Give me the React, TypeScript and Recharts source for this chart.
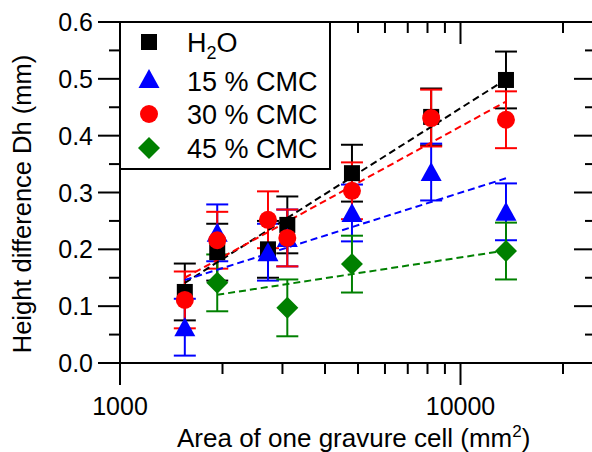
import { ScatterChart, Scatter, XAxis, YAxis, ErrorBar, ReferenceLine, Legend } from 'recharts';

// cell area (x) for each measured gravure cell
const AREA = [1550, 1930, 2720, 3100, 4800, 8200, 13600];
const AREA_45 = [1930, 3100, 4800, 13600];

// height difference (mm)
const H2O = [0.125, 0.195, 0.2, 0.243, 0.334, 0.433, 0.498];
const CMC15 = [0.063, 0.229, 0.195, 0.22, 0.264, 0.336, 0.266];
const CMC30 = [0.111, 0.216, 0.252, 0.22, 0.303, 0.431, 0.428];
const CMC45 = [0.141, 0.097, 0.174, 0.197];

const H2O_ERR = [0.05, 0.05, 0.05, 0.05, 0.05, 0.05, 0.05];
const CMC15_ERR = [0.05, 0.05, 0.05, 0.05, 0.05, 0.05, 0.05];
const CMC30_ERR = [0.05, 0.05, 0.05, 0.05, 0.05, 0.05, 0.05];
const CMC45_ERR = [0.05, 0.05, 0.05, 0.05];

// dashed fit lines, end points
const FIT_X = [1550, 13600];
const FIT_X_45 = [1930, 13600];
const FIT_H2O = [0.141, 0.499];
const FIT_15 = [0.146, 0.325];
const FIT_30 = [0.15, 0.46];
const FIT_45 = [0.12, 0.198];

const X_TICKS = [1000, 2000, 3000, 4000, 5000, 6000, 7000, 8000, 9000, 10000, 20000];
const X_MAJOR = [1000, 10000];
const Y_TICKS = [0, 0.05, 0.1, 0.15, 0.2, 0.25, 0.3, 0.35, 0.4, 0.45, 0.5, 0.55, 0.6];

const FONT = '"Liberation Sans", Arial, Helvetica, sans-serif';
const BLUE = '#0000ff';
const RED = '#ff0000';
const GREEN = '#008000';
const TOP = 22;
const RIGHT = 596;

const pts = (xs: number[], ys: number[], errs?: number[]) =>
  xs.map((x, i) => ({ x, y: ys[i], err: errs ? errs[i] : 0 }));

const square = (color: string) => (p: any) => (
  <rect x={p.cx - 8} y={p.cy - 8} width={16} height={16} fill={color} />
);
const triangle = (color: string) => (p: any) => (
  <polygon
    points={`${p.cx},${p.cy - 10} ${p.cx - 10.5},${p.cy + 9} ${p.cx + 10.5},${p.cy + 9}`}
    fill={color}
  />
);
const circle = (color: string) => (p: any) => <circle cx={p.cx} cy={p.cy} r={9} fill={color} />;
const diamond = (color: string) => (p: any) => (
  <polygon
    points={`${p.cx},${p.cy - 11} ${p.cx + 11},${p.cy} ${p.cx},${p.cy + 11} ${p.cx - 11},${p.cy}`}
    fill={color}
  />
);
const noDot = () => <g />;

function XTick(props: any) {
  const { x, y, payload } = props;
  const major = X_MAJOR.includes(payload.value);
  const len = major ? 22 : 11;
  return (
    <g>
      <line x1={x} x2={x} y1={y} y2={y + len} stroke="#000" strokeWidth={2} />
      <line x1={x} x2={x} y1={TOP} y2={TOP + len} stroke="#000" strokeWidth={2} />
      {major && (
        <text x={x} y={y + 52} textAnchor="middle" fontSize={25} fontFamily={FONT} fill="#000">
          {payload.value}
        </text>
      )}
    </g>
  );
}

function YTick(props: any) {
  const { x, y, payload } = props;
  const major = Math.round(payload.value * 100) % 10 === 0;
  const len = major ? 22 : 11;
  return (
    <g>
      <line x1={x - len} x2={x} y1={y} y2={y} stroke="#000" strokeWidth={2} />
      <line x1={RIGHT - len} x2={RIGHT} y1={y} y2={y} stroke="#000" strokeWidth={2} />
      {major && (
        <text x={x - 27} y={y + 9} textAnchor="end" fontSize={25} fontFamily={FONT} fill="#000">
          {payload.value.toFixed(1)}
        </text>
      )}
    </g>
  );
}

const XTitle = () => (
  <text x={177} y={447} fontSize={26} fontFamily={FONT} fill="#000">
    Area of one gravure cell (mm<tspan dy={-10} fontSize={17}>2</tspan>
    <tspan dy={10}>)</tspan>
  </text>
);

const YTitle = () => (
  <text transform="translate(31,204) rotate(-90)" textAnchor="middle" fontSize={25.5} fontFamily={FONT} fill="#000">
    Height difference Dh (mm)
  </text>
);

function LegendBox() {
  const rows = [
    { base: 31, mark: <rect x={22} y={13} width={16} height={16} fill="#000" /> },
    { base: 70, mark: <polygon points="30,48 19.5,67 40.5,67" fill={BLUE} /> },
    { base: 103, mark: <circle cx={30} cy={93} r={9} fill={RED} /> },
    { base: 137, mark: <polygon points="30,116 41,127 30,138 19,127" fill={GREEN} /> },
  ];
  const labels = [null, '15 % CMC', '30 % CMC', '45 % CMC'];
  return (
    <svg width={212} height={149} style={{ display: 'block' }}>
      <rect x={1} y={1} width={210} height={147} fill="#fff" stroke="#000" strokeWidth={2} />
      {rows.map((r, i) => (
        <g key={i}>
          {r.mark}
          <text x={68} y={r.base} fontSize={27} fontFamily={FONT} fill="#000">
            {i === 0 ? (
              <>
                H<tspan dy={7} fontSize={18}>2</tspan>
                <tspan dy={-7}>O</tspan>
              </>
            ) : (
              labels[i]
            )}
          </text>
        </g>
      ))}
    </svg>
  );
}

export default function App() {
  return (
    <div style={{ position: 'absolute', left: 0, top: 0, width: 592, height: 452, overflow: 'hidden', background: '#fff' }}>
      <ScatterChart width={600} height={452} margin={{ top: TOP, right: 4, bottom: 0, left: 0 }}>
        <XAxis
          type="number"
          dataKey="x"
          scale="log"
          domain={[1000, 25000]}
          ticks={X_TICKS}
          interval={0}
          tickSize={0}
          tickMargin={0}
          tickLine={false}
          tick={XTick}
          height={89}
          axisLine={{ stroke: '#000', strokeWidth: 2 }}
          allowDataOverflow
          label={<XTitle />}
        />
        <YAxis
          type="number"
          dataKey="y"
          domain={[0, 0.6]}
          ticks={Y_TICKS}
          interval={0}
          tickSize={0}
          tickMargin={0}
          tickLine={false}
          tick={YTick}
          width={120}
          axisLine={{ stroke: '#000', strokeWidth: 2 }}
          allowDataOverflow
          label={<YTitle />}
        />
        <ReferenceLine y={0.6} stroke="#000" strokeWidth={2} />
        <Legend
          layout="horizontal"
          verticalAlign="middle"
          align="center"
          wrapperStyle={{ left: 119, top: 21, width: 212, height: 149 }}
          content={() => <LegendBox />}
        />

        <Scatter data={pts(FIT_X, FIT_H2O)} shape={noDot} line={{ stroke: '#000', strokeWidth: 2, strokeDasharray: '7 4' }} isAnimationActive={false} />
        <Scatter data={pts(FIT_X, FIT_30)} shape={noDot} line={{ stroke: RED, strokeWidth: 2, strokeDasharray: '7 4' }} isAnimationActive={false} />
        <Scatter data={pts(FIT_X, FIT_15)} shape={noDot} line={{ stroke: BLUE, strokeWidth: 2, strokeDasharray: '7 4' }} isAnimationActive={false} />
        <Scatter data={pts(FIT_X_45, FIT_45)} shape={noDot} line={{ stroke: GREEN, strokeWidth: 2, strokeDasharray: '7 4' }} isAnimationActive={false} />

        <Scatter data={pts(AREA, H2O, H2O_ERR)} shape={square('#000')} isAnimationActive={false}>
          <ErrorBar dataKey="err" direction="y" width={11} stroke="#000" strokeWidth={2} isAnimationActive={false} />
        </Scatter>
        <Scatter data={pts(AREA, CMC15, CMC15_ERR)} shape={triangle(BLUE)} isAnimationActive={false}>
          <ErrorBar dataKey="err" direction="y" width={11} stroke={BLUE} strokeWidth={2} isAnimationActive={false} />
        </Scatter>
        <Scatter data={pts(AREA, CMC30, CMC30_ERR)} shape={circle(RED)} isAnimationActive={false}>
          <ErrorBar dataKey="err" direction="y" width={11} stroke={RED} strokeWidth={2} isAnimationActive={false} />
        </Scatter>
        <Scatter data={pts(AREA_45, CMC45, CMC45_ERR)} shape={diamond(GREEN)} isAnimationActive={false}>
          <ErrorBar dataKey="err" direction="y" width={11} stroke={GREEN} strokeWidth={2} isAnimationActive={false} />
        </Scatter>
      </ScatterChart>
    </div>
  );
}
